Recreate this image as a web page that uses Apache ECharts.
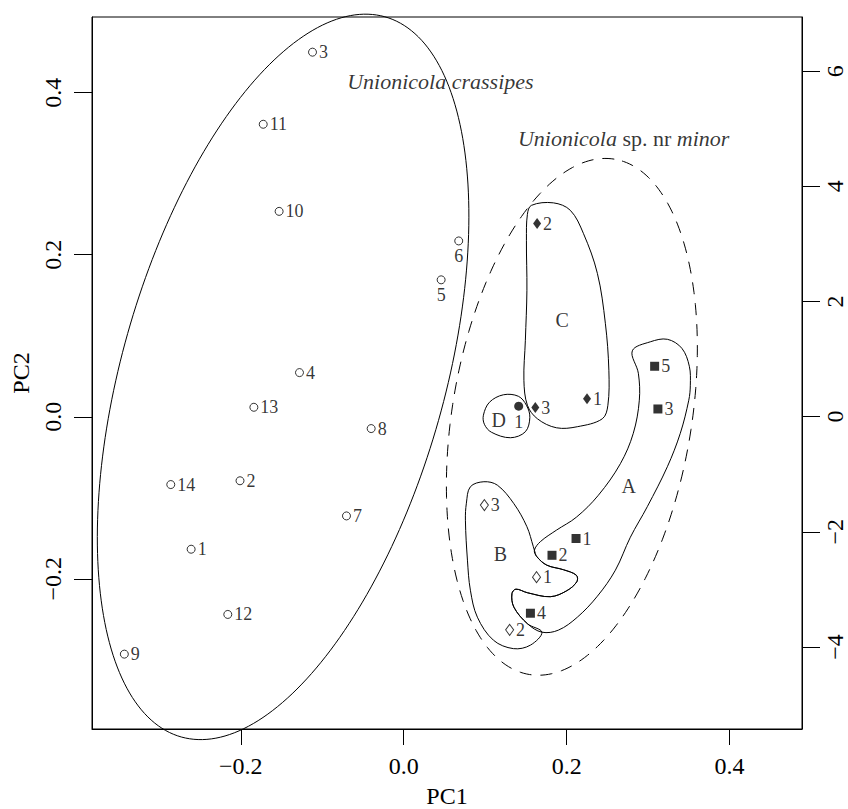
<!DOCTYPE html>
<html><head><meta charset="utf-8">
<script src="https://cdn.jsdelivr.net/npm/echarts@6/dist/echarts.min.js"></script>
<style>html,body{margin:0;padding:0;background:#fff}#c{width:848px;height:809px}</style>
</head><body><div id="c"></div>
<script>
// ---- tick labels ----
const xTicks = [-0.2, 0.0, 0.2, 0.4];
const yTicks = [-0.2, 0.0, 0.2, 0.4];
const y2Ticks = [-4, -2, 0, 2, 4, 6];

// ---- Unionicola crassipes (open circles) ----
const crassLabels = ['1','2','3','4','5','6','7','8','9','10','11','12','13','14'];
const crassPC1 = [-0.261,-0.201,-0.112,-0.128,0.0459,0.0675,-0.0703,-0.040,-0.343,-0.153,-0.1725,-0.216,-0.184,-0.286];
const crassPC2 = [-0.1635,-0.079,0.450,0.0545,0.169,0.217,-0.1224,-0.0146,-0.293,0.2535,0.361,-0.244,0.0117,-0.0837];
const crassBelow = ['5','6'];

// ---- group A (filled squares) ----
const aLabels = ['1','2','3','4','5'];
const aPC1 = [0.2115,0.182,0.312,0.1555,0.308];
const aPC2 = [-0.1503,-0.171,0.0096,-0.2425,0.0623];

// ---- group B (open diamonds) ----
const bLabels = ['1','2','3'];
const bPC1 = [0.163,0.130,0.099];
const bPC2 = [-0.198,-0.263,-0.109];

// ---- group C (filled diamonds) ----
const cLabels = ['1','2','3'];
const cPC1 = [0.225,0.1637,0.1615];
const cPC2 = [0.0222,0.2384,0.0114];

// ---- group D (filled circle) ----
const dLabels = ['1'];
const dPC1 = [0.1411];
const dPC2 = [0.0130];

// ---- ellipses: [centre PC1, centre PC2, semi-major, semi-minor, angle deg] ----
const ellipseCrassipes = [-0.1481, 0.0492, 0.4617, 0.1982, 74.3];
const ellipseMinor = [0.2064, -0.0001, 0.3223, 0.1469, 80.7];

// ---- group outlines (PC1, PC2) ----
const hullA = [[0.2806,0.0814],[0.3027,0.0925],[0.3236,0.0956],[0.3414,0.0845],[0.3506,0.0623],[0.3518,0.0389],[0.3499,0.0204],[0.3395,-0.0204],[0.3236,-0.0617],[0.2990,-0.1110],[0.2782,-0.1487],[0.2598,-0.1894],[0.2377,-0.2215],[0.2131,-0.2474],[0.1898,-0.2634],[0.1696,-0.2659],[0.1518,-0.2554],[0.1352,-0.2350],[0.1328,-0.2184],[0.1377,-0.2128],[0.1518,-0.2172],[0.1800,-0.2221],[0.2002,-0.2147],[0.2125,-0.2036],[0.2119,-0.1956],[0.1960,-0.1888],[0.1757,-0.1832],[0.1634,-0.1727],[0.1604,-0.1647],[0.1677,-0.1542],[0.1874,-0.1400],[0.2119,-0.1240],[0.2389,-0.0969],[0.2659,-0.0580],[0.2818,-0.0204],[0.2892,0.0204],[0.2880,0.0537]];
const hullB = [[0.1604,-0.1647],[0.1591,-0.1604],[0.1512,-0.1357],[0.1352,-0.1073],[0.1150,-0.0845],[0.0984,-0.0802],[0.0818,-0.0864],[0.0769,-0.1067],[0.0757,-0.1277],[0.0782,-0.1770],[0.0818,-0.2141],[0.0904,-0.2474],[0.1101,-0.2758],[0.1346,-0.2862],[0.1555,-0.2819],[0.1696,-0.2659],[0.1518,-0.2554],[0.1352,-0.2350],[0.1328,-0.2184],[0.1377,-0.2128],[0.1518,-0.2172],[0.1800,-0.2221],[0.2002,-0.2147],[0.2125,-0.2036],[0.2119,-0.1956],[0.1960,-0.1888],[0.1757,-0.1832],[0.1634,-0.1727]];
const hullC = [[0.1567,0.2609],[0.1837,0.2640],[0.2045,0.2548],[0.2205,0.2264],[0.2377,0.1770],[0.2475,0.1154],[0.2518,0.0574],[0.2506,0.0142],[0.2438,-0.0025],[0.2131,-0.0123],[0.1874,-0.0136],[0.1641,-0.0025],[0.1518,0.0142],[0.1475,0.0450],[0.1493,0.0944],[0.1512,0.1561],[0.1506,0.2178],[0.1518,0.2498]];
const hullD = [[0.0978,0.0019],[0.1052,0.0179],[0.1223,0.0271],[0.1407,0.0253],[0.1506,0.0142],[0.1548,-0.0006],[0.1493,-0.0185],[0.1309,-0.0259],[0.1076,-0.0191],[0.0990,-0.0093]];

// ---- annotations ----
const annoTexts = ['{i|Unionicola crassipes}', '{i|Unionicola} sp. nr {i|minor}', 'A', 'B', 'C', 'D'];
const annoPC1 = [0.0450, 0.2700, 0.2761, 0.1187, 0.1944, 0.1166];
const annoPC2 = [0.4139, 0.3432, -0.0854, -0.1688, 0.1191, -0.0035];
const annoSizes = [22, 22, 20, 20, 20, 20];

const FONT = 'Liberation Serif';
const minus = v => (v < 0 ? '\u2212' : '') ;
const fmt1 = v => minus(v) + Math.abs(v).toFixed(1);
const fmt0 = v => minus(v) + Math.abs(v).toFixed(0);

function pts(xs, ys, labs, below) {
  return xs.map((x, i) => {
    const d = { value: [x, ys[i]], name: labs[i] };
    if (below && below.indexOf(labs[i]) >= 0) d.label = { position: 'bottom', distance: 2 };
    return d;
  });
}
const ptLabel = { show: true, position: 'right', distance: 2, formatter: p => p.name, fontFamily: FONT, fontSize: 18, color: '#000' };

function ellipseRender(params, api) {
  const e = params.dataIndex === 0 ? ellipseCrassipes : ellipseMinor;
  const ang = e[4] * Math.PI / 180, out = [];
  for (let i = 0; i < 240; i++) {
    const t = i / 240 * 2 * Math.PI, dx = e[2] * Math.cos(t), dy = e[3] * Math.sin(t);
    out.push(api.coord([e[0] + dx * Math.cos(ang) - dy * Math.sin(ang), e[1] + dx * Math.sin(ang) + dy * Math.cos(ang)]));
  }
  return { type: 'polygon', shape: { points: out }, style: { fill: 'none', stroke: '#000', lineWidth: 1, lineDash: params.dataIndex === 1 ? [12, 9] : null } };
}
const hulls = [hullA, hullB, hullC, hullD];
function hullRender(params, api) {
  return { type: 'polygon', shape: { points: hulls[params.dataIndex].map(p => api.coord(p)), smooth: 0.35 }, style: { fill: 'none', stroke: '#000', lineWidth: 1 } };
}

const chart = echarts.init(document.getElementById('c'), null, { renderer: 'svg' });
const axisLine = { show: true, onZero: false, lineStyle: { color: '#000', width: 1 } };
chart.setOption({
  animation: false,
  backgroundColor: '#fff',
  grid: { left: 92, right: 46, top: 17, bottom: 80, show: true, borderColor: '#000', borderWidth: 1, backgroundColor: 'transparent', containLabel: false, outerBoundsMode: 'none' },
  xAxis: {
    type: 'value', min: -0.3827, max: 0.4889, name: 'PC1', nameLocation: 'middle', nameGap: 55,
    nameTextStyle: { fontFamily: FONT, fontSize: 24, color: '#000' },
    axisLine, splitLine: { show: false },
    axisTick: { show: true, inside: false, length: 16, customValues: xTicks, lineStyle: { color: '#000' } },
    axisLabel: { customValues: xTicks, formatter: fmt1, fontFamily: FONT, fontSize: 24, color: '#000', margin: 25 }
  },
  yAxis: [{
    type: 'value', min: -0.3854, max: 0.4934, name: 'PC2', nameLocation: 'middle', nameGap: 58, nameRotate: 90,
    nameTextStyle: { fontFamily: FONT, fontSize: 24, color: '#000' },
    axisLine, splitLine: { show: false },
    axisTick: { show: true, inside: false, length: 18, customValues: yTicks, lineStyle: { color: '#000' } },
    axisLabel: { customValues: yTicks, formatter: fmt1, rotate: 90, fontFamily: FONT, fontSize: 24, color: '#000', margin: 27 }
  }, {
    type: 'value', position: 'right', min: -5.425, max: 6.94,
    axisLine, splitLine: { show: false },
    axisTick: { show: true, inside: false, length: 18, customValues: y2Ticks, lineStyle: { color: '#000' } },
    axisLabel: { customValues: y2Ticks, formatter: fmt0, rotate: 90, fontFamily: FONT, fontSize: 24, color: '#000', margin: 21 }
  }],
  series: [
    { type: 'custom', renderItem: ellipseRender, data: [0, 1], clip: false, silent: true },
    { type: 'custom', renderItem: hullRender, data: [0, 1, 2, 3], clip: false, silent: true },
    { type: 'scatter', data: pts(crassPC1, crassPC2, crassLabels, crassBelow), symbol: 'circle', symbolSize: 8,
      itemStyle: { color: '#fff', borderColor: '#000', borderWidth: 1 }, label: ptLabel },
    { type: 'scatter', data: pts(aPC1, aPC2, aLabels), symbol: 'rect', symbolSize: 9,
      itemStyle: { color: '#000' }, label: ptLabel },
    { type: 'scatter', data: pts(bPC1, bPC2, bLabels), symbol: 'diamond', symbolSize: [8, 11],
      itemStyle: { color: '#fff', borderColor: '#000', borderWidth: 1 }, label: ptLabel },
    { type: 'scatter', data: pts(cPC1, cPC2, cLabels), symbol: 'diamond', symbolSize: [8, 11],
      itemStyle: { color: '#000' }, label: ptLabel },
    { type: 'scatter', data: pts(dPC1, dPC2, dLabels, ['1']), symbol: 'circle', symbolSize: 9,
      itemStyle: { color: '#000' }, label: ptLabel },
    { type: 'scatter', symbolSize: 0, silent: true,
      data: annoTexts.map((t, i) => ({ value: [annoPC1[i], annoPC2[i]], name: t, label: { fontSize: annoSizes[i] } })),
      label: { show: true, position: 'inside', formatter: p => p.name, fontFamily: FONT, color: '#000', fontSize: 22,
        rich: { i: { fontStyle: 'italic', fontFamily: FONT, fontSize: 22, color: '#000' } } } }
  ]
});
</script></body></html>
